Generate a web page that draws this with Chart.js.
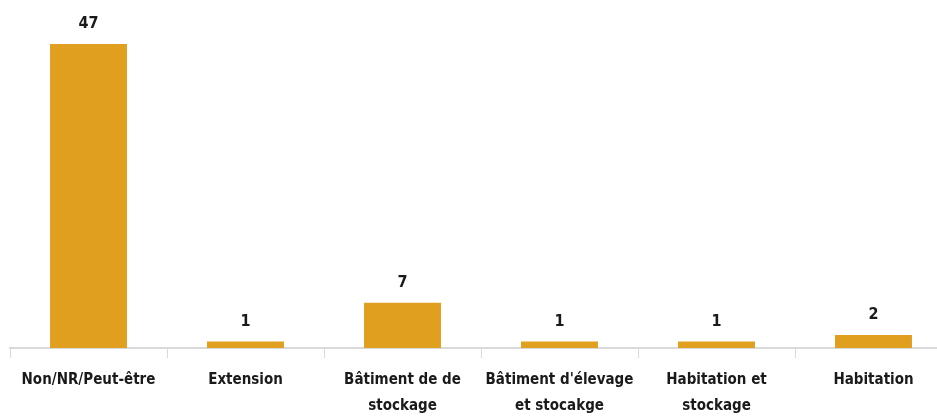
<!DOCTYPE html>
<html>
<head>
<meta charset="utf-8">
<script src="https://cdn.jsdelivr.net/npm/chart.js@4/dist/chart.umd.min.js"></script>
<style>
  html, body { margin: 0; padding: 0; background: #fff; overflow: hidden; }
  #wrap { width: 960px; height: 418px; }
</style>
</head>
<body>
<div id="wrap"><canvas id="barChart"></canvas></div>
<script>
const categories = [
  "Non/NR/Peut-être",
  "Extension",
  ["Bâtiment de de", "stockage"],
  ["Bâtiment d'élevage", "et stocakge"],
  ["Habitation et", "stockage"],
  "Habitation"
];
const counts = [47, 1, 7, 1, 1, 2];

const FONT = "'DejaVu Sans Condensed', 'Liberation Sans Narrow', sans-serif";

// values above each bar
const valueLabels = {
  id: "valueLabels",
  afterDatasetsDraw(chart) {
    const ctx = chart.ctx;
    const meta = chart.getDatasetMeta(0);
    ctx.save();
    ctx.font = "condensed bold 16px " + FONT;
    ctx.fillStyle = "#1a1a1a";
    ctx.textAlign = "center";
    ctx.textBaseline = "bottom";
    meta.data.forEach((bar, i) => {
      ctx.fillText(String(counts[i]), bar.x, bar.y - 12);
    });
    ctx.restore();
  }
};

const canvas = document.getElementById("barChart");
canvas.width = 960;
canvas.height = 418;

new Chart(canvas, {
  type: "bar",
  data: {
    labels: categories,
    datasets: [{
      data: counts,
      backgroundColor: "#E09F1F",
      borderWidth: 0,
      categoryPercentage: 1,
      barPercentage: 0.49
    }]
  },
  options: {
    responsive: false,
    animation: false,
    layout: { padding: { top: 44, left: 10, right: 8, bottom: 0 } },
    plugins: {
      legend: { display: false },
      tooltip: { enabled: false }
    },
    scales: {
      y: { display: false, min: 0, max: 47 },
      x: {
        offset: true,
        grid: {
          offset: true,
          drawOnChartArea: false,
          color: "#d9d9d9",
          tickLength: 10
        },
        border: { color: "#d9d9d9", width: 2 },
        ticks: {
          color: "#1a1a1a",
          font: { family: FONT, size: 15, style: "condensed", weight: "bold", lineHeight: "26px" },
          padding: 9,
          maxRotation: 0,
          autoSkip: false
        },
        afterFit(scale) { scale.height = 70; }
      }
    }
  },
  plugins: [valueLabels]
});
</script>
</body>
</html>
